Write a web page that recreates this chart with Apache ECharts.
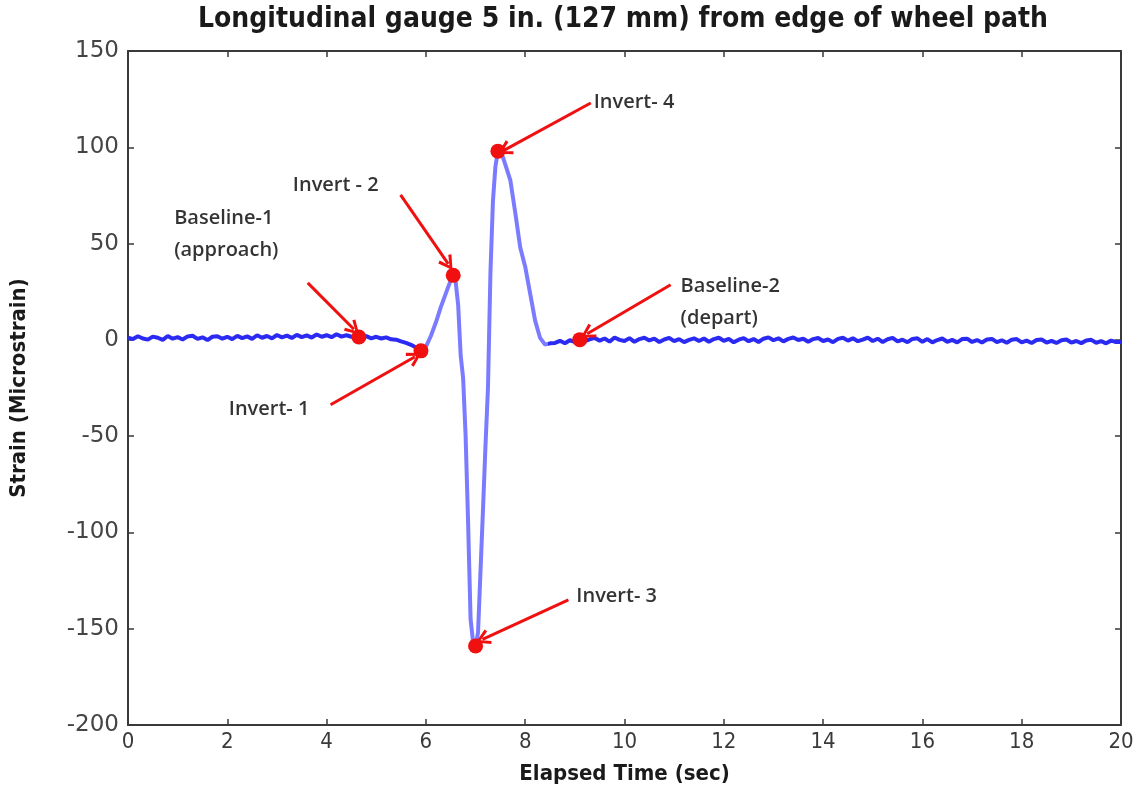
<!DOCTYPE html>
<html>
<head>
<meta charset="utf-8">
<script src="https://cdn.jsdelivr.net/npm/echarts@6/dist/echarts.min.js"></script>
<style>
  html, body { margin: 0; padding: 0; background: #fff; }
  #chart { width: 1141px; height: 793px; }
</style>
</head>
<body>
<div id="chart"></div>
<script>
// strain trace, split in three pieces (sec, microstrain)
var approachTime = [0.0, 0.1, 0.2, 0.3, 0.4, 0.5, 0.6, 0.7, 0.8, 0.9,
  1.0, 1.1, 1.2, 1.3, 1.4, 1.5, 1.6, 1.7, 1.8, 1.9,
  2.0, 2.1, 2.2, 2.3, 2.4, 2.5, 2.6, 2.7, 2.8, 2.9,
  3.0, 3.1, 3.2, 3.3, 3.4, 3.5, 3.6, 3.7, 3.8, 3.9,
  4.0, 4.1, 4.2, 4.3, 4.4, 4.5, 4.6, 4.7, 4.8, 4.9,
  5.0, 5.1, 5.2, 5.3, 5.4, 5.5, 5.6, 5.7, 5.8, 5.9];
var approachStrain = [1.2, 0.4, 1.9, 0.7, 0.1, 1.7, 1.1, 0.0, 2.0, 0.6,
  1.4, 0.2, 1.8, 2.1, 0.5, 1.3, -0.1, 1.6, 1.9, 0.6,
  1.6, 0.4, 2.1, 0.9, 1.8, 0.5, 2.4, 1.1, 2.0, 0.8,
  2.5, 1.3, 2.2, 1.0, 2.6, 1.4, 2.3, 1.2, 2.8, 1.6,
  2.4, 1.4, 2.9, 1.7, 2.4, 1.6, 1.5, 1.2, 1.9, 0.8,
  1.6, 0.7, 1.3, 0.3, 0.1, -0.8, -1.6, -2.6, -4.0, -5.7];

var pulseTime = [6.0, 6.1, 6.2, 6.3, 6.4, 6.5, 6.55, 6.6, 6.65, 6.7,
  6.75, 6.8, 6.85, 6.9, 6.95, 7.0, 7.05, 7.1, 7.15, 7.2,
  7.25, 7.3, 7.35, 7.4, 7.45, 7.5, 7.55, 7.6, 7.7, 7.8,
  7.9, 8.0, 8.1, 8.2, 8.3, 8.4, 8.5];
var pulseStrain = [-3.5, 2, 9, 17, 24, 31, 33.5, 30, 18, -8,
  -20, -50, -95, -145, -157, -159, -152, -120, -88, -55,
  -25, 35, 72, 90, 98, 97, 95, 91, 83, 66,
  48, 38, 24, 10, 1, -2.5, -1.8];

var departTime = [8.6, 8.7, 8.8, 8.9, 9.0, 9.1, 9.2, 9.3, 9.4, 9.5,
  9.6, 9.7, 9.8, 9.9, 10.0, 10.1, 10.2, 10.3, 10.4, 10.5,
  10.6, 10.7, 10.8, 10.9, 11.0, 11.1, 11.2, 11.3, 11.4, 11.5,
  11.6, 11.7, 11.8, 11.9, 12.0, 12.1, 12.2, 12.3, 12.4, 12.5,
  12.6, 12.7, 12.8, 12.9, 13.0, 13.1, 13.2, 13.3, 13.4, 13.5,
  13.6, 13.7, 13.8, 13.9, 14.0, 14.1, 14.2, 14.3, 14.4, 14.5,
  14.6, 14.7, 14.8, 14.9, 15.0, 15.1, 15.2, 15.3, 15.4, 15.5,
  15.6, 15.7, 15.8, 15.9, 16.0, 16.1, 16.2, 16.3, 16.4, 16.5,
  16.6, 16.7, 16.8, 16.9, 17.0, 17.1, 17.2, 17.3, 17.4, 17.5,
  17.6, 17.7, 17.8, 17.9, 18.0, 18.1, 18.2, 18.3, 18.4, 18.5,
  18.6, 18.7, 18.8, 18.9, 19.0, 19.1, 19.2, 19.3, 19.4, 19.5,
  19.6, 19.7, 19.8, 19.9, 20.0];
var departStrain = [-1.6, -0.5, -1.8, -0.2, -1.1, 0.4, -0.6, 0.3, 1.0, -0.4,
  0.7, -0.9, 1.2, 0.0, -0.6, 0.9, -1.0, 0.4, 1.1, -0.3,
  0.6, -1.1, 0.2, 1.0, -0.7, 0.4, -1.2, 0.0, 0.8, -0.6,
  0.7, -1.0, 0.4, 1.1, -0.5, 0.5, -1.3, 0.1, 0.9, -0.7,
  0.4, -1.1, 0.6, 1.3, -0.2, 0.8, -0.8, 0.5, 1.2, -0.1,
  0.6, -1.0, 0.4, 1.0, -0.6, 0.2, -1.2, 0.5, 1.1, -0.4,
  0.8, -0.7, 0.1, 1.2, -0.6, 0.6, -1.1, 0.3, 1.0, -0.8,
  0.1, -1.2, 0.5, 0.8, -1.0, 0.4, -1.3, -0.1, 0.7, -1.0,
  0.0, -1.3, 0.4, 0.6, -1.1, -0.1, -1.4, 0.2, 0.5, -1.2,
  -0.2, -1.5, 0.1, 0.4, -1.3, -0.4, -1.6, -0.1, 0.2, -1.4,
  -0.5, -1.6, -0.2, 0.2, -1.4, -0.6, -1.7, -0.3, 0.0, -1.5,
  -0.7, -1.8, -0.4, -1.1, -1.1];

// marked events (red dots)
var eventNames = ["Baseline-1", "Invert-1", "Invert-2", "Invert-3", "Invert-4", "Baseline-2"];
var eventTime = [4.65, 5.9, 6.55, 7.0, 7.45, 9.1];
var eventStrain = [1.5, -5.7, 33.5, -159, 98, 0.1];

var xTicks = [0, 2, 4, 6, 8, 10, 12, 14, 16, 18, 20];
var yTicks = [-200, -150, -100, -50, 0, 50, 100, 150];

var chart = echarts.init(document.getElementById("chart"));

var time = approachTime.concat(pulseTime, departTime);
var strain = approachStrain.concat(pulseStrain, departStrain);
var trace = time.map(function (t, i) { return [t, strain[i]]; });
var events = eventTime.map(function (t, i) { return [t, eventStrain[i], eventNames[i]]; });

// callouts: text anchor and arrow in data units
var callouts = [
  { text: "Baseline-1\n(approach)", at: [0.93, 55], from: [3.62, 29.6], to: [4.55, 5.5] },
  { text: "Invert - 2", at: [3.32, 80.5], from: [5.49, 75.3], to: [6.45, 39.5] },
  { text: "Invert- 1", at: [2.03, -36.3], from: [4.08, -33.7], to: [5.78, -8.8] },
  { text: "Invert- 4", at: [9.38, 123.6], from: [9.32, 123], to: [7.58, 98.5] },
  { text: "Invert- 3", at: [9.03, -133.4], from: [8.87, -135], to: [7.14, -155.5] },
  { text: "Baseline-2\n(depart)", at: [11.13, 19.7], from: [10.93, 28.6], to: [9.25, 3.2] }
];

var axisColor = "#3a3a3a";
var narrow = "'Liberation Sans Narrow', 'DejaVu Sans Condensed', sans-serif";
// open V arrowhead, tip at the top
var chevron = "path://M7,0 L14,11.5 L11.6,12.8 L7,4.6 L2.4,12.8 L0,11.5 Z";

function tickStyle() {
  return { show: true, inside: true, length: 6, lineStyle: { color: axisColor, width: 1.5 } };
}

var option = {
  animation: false,
  backgroundColor: "#fff",
  graphic: [{
    type: "text",
    x: 623,
    y: 6,
    style: {
      text: "Longitudinal gauge 5 in. (127 mm) from edge of wheel path",
      textAlign: "center",
      fill: "#1a1a1a",
      font: "bold 28px " + narrow
    }
  }],
  grid: { left: 127, right: 20, top: 51, bottom: 68 },
  xAxis: [{
    type: "value",
    min: 0, max: 20, interval: 2,
    name: "Elapsed Time (sec)",
    nameLocation: "middle",
    nameGap: 38,
    nameTextStyle: { color: "#1a1a1a", fontSize: 22, fontWeight: "bold", fontFamily: narrow },
    axisLine: { onZero: false, lineStyle: { color: axisColor, width: 2 } },
    axisTick: tickStyle(),
    axisLabel: { color: "#3a3a3a", fontSize: 22, margin: 6, fontFamily: narrow },
    splitLine: { show: false }
  }, {
    type: "value",
    position: "top",
    min: 0, max: 20, interval: 2,
    axisLine: { onZero: false, lineStyle: { color: axisColor, width: 2 } },
    axisTick: tickStyle(),
    axisLabel: { show: false },
    splitLine: { show: false }
  }],
  yAxis: [{
    type: "value",
    min: -200, max: 150, interval: 50,
    name: "Strain (Microstrain)",
    nameLocation: "middle",
    nameGap: 98,
    nameRotate: 90,
    nameTextStyle: { color: "#1a1a1a", fontSize: 22, fontWeight: "bold", fontFamily: narrow },
    axisLine: { onZero: false, lineStyle: { color: axisColor, width: 2 } },
    axisTick: tickStyle(),
    axisLabel: { color: "#444", fontSize: 23, margin: 9, fontFamily: "'DejaVu Sans', sans-serif" },
    splitLine: { show: false }
  }, {
    type: "value",
    position: "right",
    min: -200, max: 150, interval: 50,
    axisLine: { show: true, onZero: false, lineStyle: { color: axisColor, width: 2 } },
    axisTick: tickStyle(),
    axisLabel: { show: false },
    splitLine: { show: false }
  }],
  visualMap: {
    show: false,
    type: "piecewise",
    seriesIndex: 0,
    dimension: 0,
    pieces: [
      { lt: 5.95, color: "#2a2af2" },
      { gte: 5.95, lt: 8.45, color: "#7b7bff" },
      { gte: 8.45, color: "#2a2af2" }
    ]
  },
  series: [{
    name: "strain",
    type: "line",
    data: trace,
    showSymbol: false,
    lineStyle: { width: 4 },
    z: 2
  }, {
    name: "events",
    type: "scatter",
    data: events,
    symbolSize: 15,
    itemStyle: { color: "#f01010", opacity: 1 },
    z: 4,
    markLine: {
      silent: true,
      animation: false,
      symbol: ["none", chevron],
      symbolSize: [16, 15],
      label: { show: false },
      lineStyle: { color: "#f01010", width: 3, type: "solid", opacity: 1 },
      data: callouts.map(function (c) {
        return [{ coord: c.from }, { coord: c.to }];
      })
    }
  }, {
    name: "labels",
    type: "scatter",
    data: callouts.map(function (c) { return c.at.concat([c.text]); }),
    symbolSize: 0,
    silent: true,
    label: {
      show: true,
      position: "right",
      distance: 0,
      formatter: function (p) { return p.data[2]; },
      color: "#000",
      fontSize: 20,
      fontWeight: 600,
      lineHeight: 32,
      fontFamily: "'Open Sans', sans-serif"
    },
    z: 5
  }]
};

chart.setOption(option);
</script>
</body>
</html>
